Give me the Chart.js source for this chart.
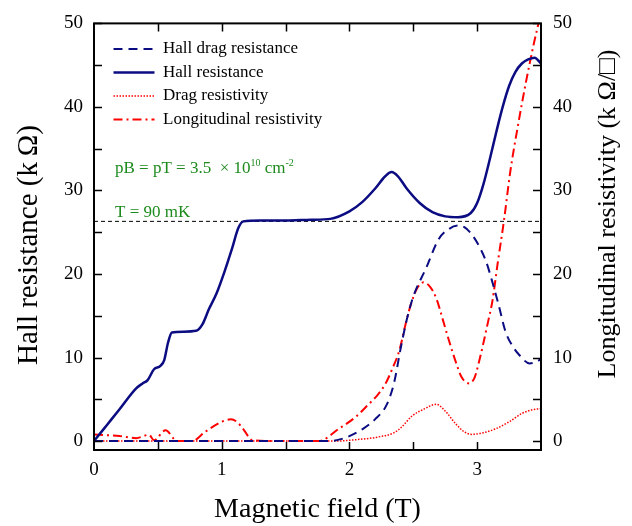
<!DOCTYPE html>
<html>
<head>
<meta charset="utf-8">
<script src="https://cdn.jsdelivr.net/npm/chart.js@4.4.1/dist/chart.umd.min.js"></script>
<style>
  html, body { margin: 0; padding: 0; background: #fff; }
  #wrap { width: 632px; height: 526px; }
</style>
</head>
<body>
<div id="wrap"><canvas id="graphCanvas" width="632" height="526"></canvas></div>
<script>
// values (field in T, resistance in kOhm)
var hallField = [0, 0.1, 0.2, 0.33, 0.38, 0.42, 0.47, 0.52, 0.55, 0.58, 0.61, 0.7, 0.8, 0.85, 0.9, 0.96, 1.02, 1.08, 1.13, 1.17, 1.3, 1.5, 1.7, 1.85, 2.0, 2.1, 2.2, 2.28, 2.33, 2.38, 2.45, 2.55, 2.65, 2.75, 2.85, 2.95, 3.0, 3.05, 3.1, 3.15, 3.2, 3.25, 3.3, 3.35, 3.4, 3.45, 3.5];
var hallRes   = [0, 1.9, 3.8, 6.3, 6.9, 7.3, 8.6, 9.0, 9.7, 11.8, 13.0, 13.1, 13.2, 14.0, 15.8, 17.7, 20.2, 23.0, 25.5, 26.3, 26.4, 26.4, 26.5, 26.6, 27.5, 28.6, 30.2, 31.7, 32.2, 31.7, 30.2, 28.5, 27.4, 26.9, 26.8, 27.3, 28.5, 30.8, 33.8, 37.0, 40.0, 42.5, 44.2, 45.2, 45.7, 45.9, 45.2];

var dragField = [0, 0.5, 1.0, 1.5, 1.84, 1.95, 2.0, 2.1, 2.2, 2.29, 2.35, 2.4, 2.45, 2.5, 2.6, 2.7, 2.78, 2.85, 2.9, 2.96, 3.02, 3.07, 3.12, 3.17, 3.22, 3.28, 3.33, 3.41, 3.45, 3.5];
var hallDrag  = [0, 0, 0, 0, 0, 0.3, 0.6, 1.4, 2.6, 4.3, 7.0, 11.0, 14.6, 17.3, 20.7, 24.2, 25.4, 25.8, 25.6, 24.7, 23.2, 21.5, 19.0, 16.2, 13.2, 11.3, 10.3, 9.3, 9.4, 9.8];

var rhoDField = [0, 1.9, 2.0, 2.23, 2.35, 2.41, 2.49, 2.58, 2.68, 2.75, 2.83, 2.9, 2.96, 3.05, 3.15, 3.25, 3.35, 3.42, 3.5];
var dragRho   = [0, 0, 0.1, 0.5, 1.0, 1.7, 3.0, 3.8, 4.4, 3.6, 2.1, 1.1, 0.8, 1.0, 1.5, 2.3, 3.3, 3.7, 3.9];

var rhoXField = [0, 0.1, 0.2, 0.33, 0.43, 0.47, 0.56, 0.65, 0.77, 0.87, 1.0, 1.07, 1.12, 1.17, 1.24, 1.4, 1.6, 1.76, 1.92, 2.05, 2.15, 2.22, 2.28, 2.34, 2.39, 2.44, 2.48, 2.53, 2.58, 2.63, 2.68, 2.73, 2.78, 2.83, 2.88, 2.94, 2.98, 3.01, 3.05, 3.09, 3.12, 3.16, 3.21, 3.26, 3.32, 3.38, 3.44, 3.48, 3.5];
var longRho   = [0.8, 0.7, 0.6, 0.35, 0.75, 0.1, 1.3, 0, 0, 1.1, 2.3, 2.6, 2.3, 1.4, 0.1, 0, 0, 0, 1.5, 2.9, 4.4, 5.5, 6.8, 8.8, 10.8, 14.0, 16.3, 18.3, 19.0, 18.5, 17.1, 14.6, 12.0, 9.6, 7.6, 6.9, 7.6, 9.2, 11.8, 14.6, 16.8, 21.2, 26.4, 32.3, 37.8, 42.8, 47.3, 50.0, 51.5];

var quantumLevel = 26.3;
var xTicks = [0, 1, 2, 3];
var yTicks = [0, 10, 20, 30, 40, 50];

function pairs(xs, ys) {
    var out = [];
    for (var i in xs) {
        out.push({x: xs[i], y: ys[i]});
    }
    return out;
}

var serif = "'Liberation Serif', 'DejaVu Serif', serif";

var decor = {
    id: 'decor',
    afterLayout: function (chart) {
        // legend sits inside the plot, near the upper left corner
        chart.legend.left = 107;
        chart.legend.top = 34;
    },
    afterDraw: function (chart) {
        var ctx = chart.ctx, a = chart.chartArea, sx = chart.scales.x, sy = chart.scales.y;
        ctx.save();
        ctx.strokeStyle = '#000';
        ctx.lineWidth = 2;
        ctx.strokeRect(a.left, a.top, a.right - a.left, a.bottom - a.top);
        ctx.lineWidth = 1.5;
        ctx.beginPath();
        for (var v = 0; v <= 50; v += 5) {
            var y = Math.round(sy.getPixelForValue(v)) + 0.5;
            ctx.moveTo(a.left, y); ctx.lineTo(a.left + 8, y);
            ctx.moveTo(a.right - 8, y); ctx.lineTo(a.right, y);
        }
        for (var t = 0.5; t < 3.5; t += 0.5) {
            var x = Math.round(sx.getPixelForValue(t)) + 0.5;
            ctx.moveTo(x, a.bottom); ctx.lineTo(x, a.bottom - 8);
            ctx.moveTo(x, a.top); ctx.lineTo(x, a.top + 8);
        }
        ctx.stroke();

        // annotations
        ctx.fillStyle = '#1d8a1d';
        ctx.textBaseline = 'alphabetic';
        ctx.textAlign = 'left';
        var px = 115, py = 173;
        function put(txt, size, dy) {
            ctx.font = size + 'px ' + serif;
            ctx.fillText(txt, px, py + dy);
            px += ctx.measureText(txt).width;
        }
        put('pB = pT = 3.5  \u00d7 10', 17, 0);
        put('10', 10, -7);
        put(' cm', 17, 0);
        put('-2', 10, -7);
        ctx.font = '17px ' + serif;
        ctx.fillText('T = 90 mK', 115, 217);

        // axis titles, both read upward
        ctx.fillStyle = '#000';
        ctx.textAlign = 'center';
        ctx.textBaseline = 'middle';
        ctx.font = '29px ' + serif;
        ctx.translate(29, 245);
        ctx.rotate(-Math.PI / 2);
        ctx.fillText('Hall resistance (k\u202f\u03a9)', 0, 0);
        ctx.restore();
        ctx.save();
        ctx.fillStyle = '#000';
        ctx.textAlign = 'center';
        ctx.textBaseline = 'middle';
        ctx.font = '26px ' + serif;
        ctx.translate(608, 214);
        ctx.rotate(-Math.PI / 2);
        ctx.fillText('Longitudinal resistivity (k \u03a9/\u25a1)', 0, 0);
        ctx.restore();
    }
};

var chartdata = {
    datasets: [
        {
            label: 'Hall drag resistance',
            data: pairs(dragField, hallDrag),
            borderColor: '#0c0c82',
            borderWidth: 2,
            borderDash: [9, 6],
            yAxisID: 'y'
        },
        {
            label: 'Hall resistance',
            data: pairs(hallField, hallRes),
            borderColor: '#0c0c82',
            borderWidth: 2.5,
            yAxisID: 'y'
        },
        {
            label: 'Drag resistivity',
            data: pairs(rhoDField, dragRho),
            borderColor: '#ff0000',
            borderWidth: 1.5,
            borderDash: [1.5, 1.5],
            yAxisID: 'y2'
        },
        {
            label: 'Longitudinal resistivity',
            data: pairs(rhoXField, longRho),
            borderColor: '#ff0000',
            borderWidth: 2,
            borderDash: [9, 4, 2, 4],
            yAxisID: 'y2'
        },
        {
            label: 'level',
            data: [{x: 0, y: quantumLevel}, {x: 3.5, y: quantumLevel}],
            borderColor: '#000',
            borderWidth: 1,
            borderDash: [4, 3],
            yAxisID: 'y'
        }
    ]
};

var graphTarget = document.getElementById('graphCanvas');

var lineGraph = new Chart(graphTarget, {
    type: 'line',
    data: chartdata,
    plugins: [decor],
    options: {
        responsive: false,
        animation: false,
        events: [],
        layout: { padding: { top: 20, left: 0, right: 0, bottom: 0 } },
        elements: {
            point: { radius: 0 },
            line: { cubicInterpolationMode: 'monotone', fill: false }
        },
        plugins: {
            tooltip: { enabled: false },
            legend: {
                position: 'chartArea',
                align: 'start',
                labels: {
                    usePointStyle: true,
                    pointStyle: 'line',
                    pointStyleWidth: 41,
                    padding: 6.5,
                    color: '#000',
                    font: { family: serif, size: 17 },
                    generateLabels: function (chart) {
                        var items = Chart.defaults.plugins.legend.labels.generateLabels(chart);
                        items.forEach(function (item) {
                            var ds = chart.data.datasets[item.datasetIndex];
                            item.lineDash = ds.borderDash || [];
                            item.lineWidth = ds.borderWidth;
                            item.strokeStyle = ds.borderColor;
                        });
                        return items;
                    },
                    filter: function (item) { return item.text !== 'level'; }
                }
            }
        },
        scales: {
            x: {
                type: 'linear',
                min: 0,
                max: 3.5,
                grid: { display: false, drawTicks: false },
                border: { display: false },
                afterBuildTicks: function (s) { s.ticks = xTicks.map(function (v) { return {value: v}; }); },
                afterFit: function (s) { s.height = 76; },
                ticks: { padding: 9, color: '#000', font: { family: serif, size: 19 } },
                title: { display: true, text: 'Magnetic field (T)', color: '#000', padding: 0, font: { family: serif, size: 28 } }
            },
            y: {
                position: 'left',
                min: -1.07,
                max: 50,
                grid: { display: false, drawTicks: false },
                border: { display: false },
                afterBuildTicks: function (s) { s.ticks = yTicks.map(function (v) { return {value: v}; }); },
                afterFit: function (s) { s.width = 94; },
                ticks: { padding: 11, color: '#000', font: { family: serif, size: 19 } }
            },
            y2: {
                position: 'right',
                min: -1.07,
                max: 50,
                grid: { display: false, drawTicks: false },
                border: { display: false },
                afterBuildTicks: function (s) { s.ticks = yTicks.map(function (v) { return {value: v}; }); },
                afterFit: function (s) { s.width = 91; },
                ticks: { padding: 12, color: '#000', font: { family: serif, size: 19 } }
            }
        }
    }
});
</script>
</body>
</html>
